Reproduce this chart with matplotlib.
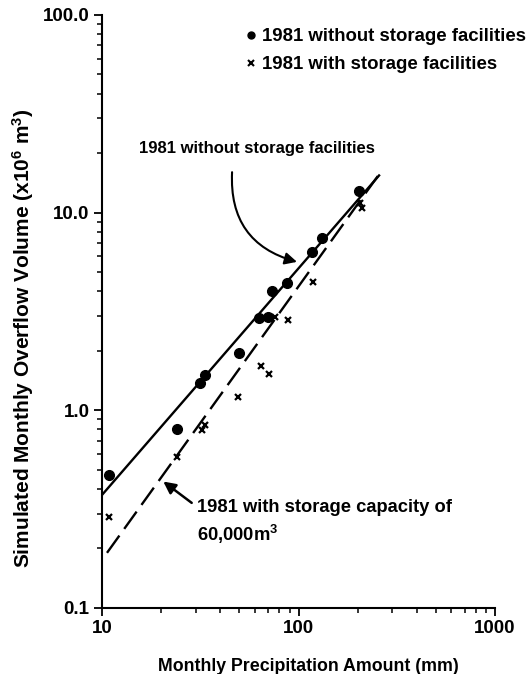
import matplotlib
matplotlib.use('Agg')
from matplotlib import pyplot as plt
from matplotlib.lines import Line2D

plt.rcParams['font.family'] = ['Liberation Sans', 'DejaVu Sans']
plt.rcParams['font.weight'] = 'bold'
plt.rcParams['axes.labelweight'] = 'bold'
plt.rcParams['mathtext.default'] = 'regular'

# monthly precipitation (mm) vs simulated overflow volume (x10^6 m^3)
rain_no_storage = [10.8, 24.0, 31.5, 33.4, 49.8, 62.9, 70.2, 73.6, 87.1, 116.7, 131, 202]
vol_no_storage = [0.47, 0.80, 1.37, 1.51, 1.94, 2.92, 2.97, 4.03, 4.39, 6.35, 7.41, 12.8]

rain_storage = [10.8, 24.2, 32.1, 33.4, 49.0, 64.4, 70.8, 76.0, 88.5, 118, 205, 210]
vol_storage = [0.29, 0.58, 0.79, 0.84, 1.17, 1.67, 1.53, 2.95, 2.86, 4.47, 11.2, 10.6]

# fitted lines (end points)
fit_no_x = [10, 257]
fit_no_y = [0.373, 15.4]
fit_st_x = [10.6, 257]
fit_st_y = [0.19, 15.6]

fig = plt.figure(figsize=(5.30, 6.74), dpi=100)
ax = fig.add_axes([0.1925, 0.098, 0.7415, 0.88])

ax.plot(fit_no_x, fit_no_y, color='black', lw=1.7)
ax.plot(fit_st_x, fit_st_y, color='black', lw=1.7, dashes=(9, 3.5))
ax.plot(rain_no_storage, vol_no_storage, 'o', color='black', ms=7, ls='none')
ax.plot(rain_storage, vol_storage, 'x', color='black', ms=4.5, mew=1.6, ls='none')

ax.set_xscale('log')
ax.set_yscale('log')
ax.set_xlim(10, 1000)
ax.set_ylim(0.1, 100)
ax.set_xticks([10, 100, 1000])
ax.set_xticklabels(['10', '100', '1000'])
ax.set_yticks([0.1, 1, 10, 100])
ax.set_yticklabels(['0.1', '1.0', '10.0', '100.0'])

for s in ['top', 'right']:
    ax.spines[s].set_visible(False)
for s in ['left', 'bottom']:
    ax.spines[s].set_linewidth(1.5)
ax.tick_params(which='major', length=6, width=1.3, labelsize=13.5, pad=3)
ax.tick_params(which='minor', length=3.5, width=1.1)

ax.set_xlabel('Monthly Precipitation Amount (mm)', fontsize=12.8)
ax.xaxis.set_label_coords(0.524, -0.085)
ax.set_ylabel('Simulated Monthly Overflow Volume (x10$^6$ m$^3$)', fontsize=15)
ax.yaxis.set_label_coords(-0.168, 0.454)

ax.annotate('1981 without storage facilities', xy=(98.2, 5.63), xytext=(61.5, 21.2),
            ha='center', va='center', fontsize=12)
ax.annotate('', xy=(98.2, 5.63), xytext=(45.9, 16.0),
            arrowprops=dict(arrowstyle='-|>', color='black', lw=1.5, mutation_scale=18,
                            connectionstyle='arc3,rad=0.4', shrinkA=0, shrinkB=0))

ax.text(30.4, 0.324, '1981 with storage capacity of', ha='left', va='center', fontsize=13.2)
ax.text(30.4, 0.236, '60,000m$^3$', ha='left', va='center', fontsize=13.2)
ax.annotate('', xy=(20.5, 0.436), xytext=(28.6, 0.340),
            arrowprops=dict(arrowstyle='-|>', color='black', lw=1.8, mutation_scale=18,
                            shrinkA=0, shrinkB=0))

handles = [Line2D([], [], marker='o', color='black', ls='none', ms=5),
           Line2D([], [], marker='x', color='black', ls='none', ms=4, mew=1.5)]
fig.legend(handles, ['1981 without storage facilities', '1981 with storage facilities'],
           loc='upper right', bbox_to_anchor=(526 / 530, 1 - 28 / 674), frameon=False,
           fontsize=13.4, handlelength=0.5, handletextpad=0.35, labelspacing=0.6,
           borderpad=0, borderaxespad=0)

fig.savefig('out.png', dpi=100)
